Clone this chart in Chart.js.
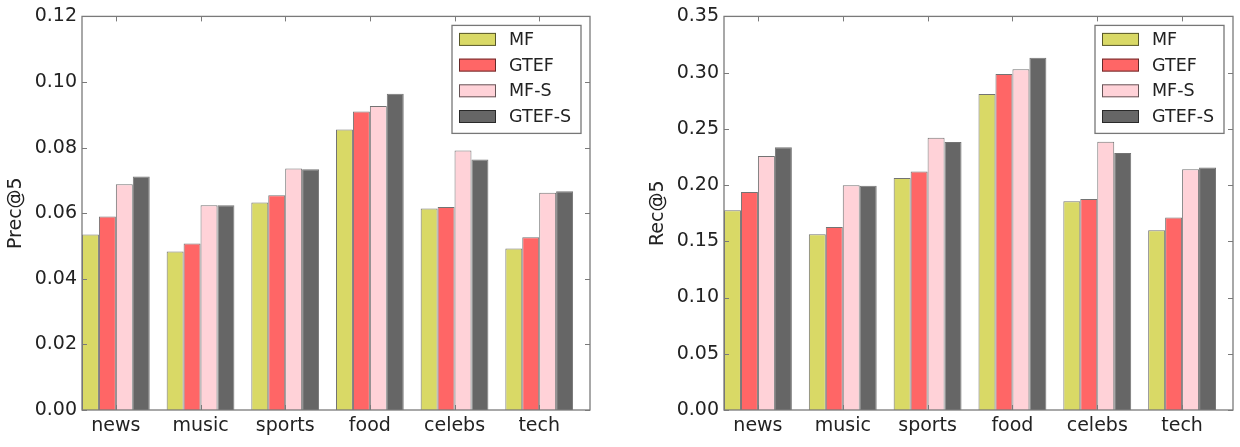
<!DOCTYPE html>
<html>
<head>
<meta charset="utf-8">
<script src="https://cdn.jsdelivr.net/npm/chart.js@4/dist/chart.umd.min.js"></script>
<style>
  body { margin: 0; background: #fff; }
  .panel { position: absolute; top: 0; width: 620px; height: 447px; }
</style>
</head>
<body>
<div class="panel" style="left:0"><canvas id="precChart"></canvas></div>
<div class="panel" style="left:620px"><canvas id="recChart"></canvas></div>
<script>
// categories + series
const categories = ['news', 'music', 'sports', 'food', 'celebs', 'tech'];
const seriesNames = ['MF', 'GTEF', 'MF-S', 'GTEF-S'];

const precMF    = [0.0535, 0.0483, 0.0633, 0.0855, 0.0614, 0.0492];
const precGTEF  = [0.0590, 0.0508, 0.0655, 0.0910, 0.0619, 0.0527];
const precMFS   = [0.0688, 0.0624, 0.0736, 0.0927, 0.0791, 0.0662];
const precGTEFS = [0.0712, 0.0624, 0.0734, 0.0964, 0.0764, 0.0667];

const recMF    = [0.1777, 0.1563, 0.2064, 0.2810, 0.1857, 0.1599];
const recGTEF  = [0.1939, 0.1628, 0.2120, 0.2988, 0.1877, 0.1712];
const recMFS   = [0.2259, 0.1999, 0.2422, 0.3030, 0.2386, 0.2141];
const recGTEFS = [0.2336, 0.1993, 0.2384, 0.3133, 0.2286, 0.2156];

const precTicks = [0, 0.02, 0.04, 0.06, 0.08, 0.10, 0.12];
const recTicks = [0, 0.05, 0.10, 0.15, 0.20, 0.25, 0.30, 0.35];

const colors = ['#d9d966', '#ff6666', '#ffd2d8', '#666666'];
const FONT = 'DejaVu Sans';

// matplotlib-ish frame with inward ticks on all four sides
const frameTicks = {
  id: 'frameTicks',
  afterDraw(chart) {
    const { ctx, chartArea: a, scales } = chart;
    ctx.save();
    ctx.strokeStyle = '#7a7a7a';
    ctx.lineWidth = 1.3;
    ctx.strokeRect(a.left, a.top, a.right - a.left, a.bottom - a.top);
    ctx.lineWidth = 1;
    ctx.beginPath();
    scales.x.ticks.forEach(t => {
      const px = Math.round(scales.x.getPixelForValue(t.value)) + 0.5;
      ctx.moveTo(px, a.bottom); ctx.lineTo(px, a.bottom - 5);
      ctx.moveTo(px, a.top); ctx.lineTo(px, a.top + 5);
    });
    scales.y.ticks.forEach(t => {
      const py = Math.round(scales.y.getPixelForValue(t.value)) + 0.5;
      ctx.moveTo(a.left, py); ctx.lineTo(a.left + 5, py);
      ctx.moveTo(a.right, py); ctx.lineTo(a.right - 5, py);
    });
    ctx.stroke();
    ctx.restore();
  }
};

// legend box inside the upper right corner of the plot
const innerLegend = {
  id: 'innerLegend',
  afterDraw(chart) {
    const { ctx, chartArea: a } = chart;
    const sets = chart.data.datasets;
    const w = 129, rowH = 25.7, h = 108;
    const x0 = a.right - 9 - w, y0 = a.top + 9;
    ctx.save();
    ctx.fillStyle = '#fff';
    ctx.fillRect(x0, y0, w, h);
    ctx.strokeStyle = '#777';
    ctx.lineWidth = 1.3;
    ctx.strokeRect(x0, y0, w, h);
    ctx.font = '17.5px "' + FONT + '"';
    ctx.textBaseline = 'middle';
    sets.forEach((ds, i) => {
      const cy = y0 + 14 + i * rowH;
      ctx.fillStyle = ds.backgroundColor;
      ctx.fillRect(x0 + 7, cy - 6.5, 37, 13);
      ctx.strokeStyle = 'rgba(0,0,0,0.6)';
      ctx.lineWidth = 1;
      ctx.strokeRect(x0 + 7.5, cy - 6, 36, 12);
      ctx.fillStyle = '#222';
      ctx.fillText(ds.label, x0 + 57, cy + 1);
    });
    ctx.restore();
  }
};

function makeChart(id, series, yTicks, yTitle, opts) {
  const datasets = series.map((vals, i) => ({
    label: seriesNames[i],
    data: vals.map((v, k) => ({ x: k, y: v })),
    backgroundColor: colors[i],
    borderColor: 'rgba(0,0,0,0.55)',
    borderWidth: 1,
    categoryPercentage: 0.8,
    barPercentage: 1.0
  }));

  return new Chart(document.getElementById(id), {
    type: 'bar',
    data: { datasets },
    options: {
      responsive: true,
      maintainAspectRatio: false,
      animation: false,
      layout: { padding: { left: 0, top: 16, right: opts.padRight, bottom: 0 } },
      plugins: { legend: { display: false }, tooltip: { enabled: false } },
      scales: {
        x: {
          type: 'linear',
          offset: false,
          min: -0.4,
          max: categories.length - 0.4,
          grid: { display: false, drawTicks: false, offset: false },
          border: { display: false },
          afterBuildTicks: axis => { axis.ticks = categories.map((c, k) => ({ value: k })); },
          afterFit: s => { s.height = 37; },
          ticks: {
            autoSkip: false,
            maxRotation: 0,
            padding: 5,
            color: '#222',
            font: { family: FONT, size: 19 },
            callback: v => categories[v]
          }
        },
        y: {
          min: yTicks[0],
          max: yTicks[yTicks.length - 1],
          grid: { display: false, drawTicks: false },
          border: { display: false },
          afterBuildTicks: axis => { axis.ticks = yTicks.map(v => ({ value: v })); },
          afterFit: s => { s.width = opts.yWidth; },
          ticks: {
            padding: 5,
            color: '#222',
            font: { family: FONT, size: 19 },
            callback: v => v.toFixed(2)
          },
          title: {
            display: true,
            text: yTitle,
            color: '#222',
            font: { family: FONT, size: 19, lineHeight: 1.2 },
            padding: { top: opts.titlePad, bottom: 0 }
          }
        }
      }
    },
    plugins: [frameTicks, innerLegend]
  });
}

makeChart('precChart', [precMF, precGTEF, precMFS, precGTEFS], precTicks, 'Prec@5',
  { yWidth: 82, padRight: 30, titlePad: 5 });
makeChart('recChart', [recMF, recGTEF, recMFS, recGTEFS], recTicks, 'Rec@5',
  { yWidth: 104, padRight: 7, titlePad: 27 });
</script>
</body>
</html>
